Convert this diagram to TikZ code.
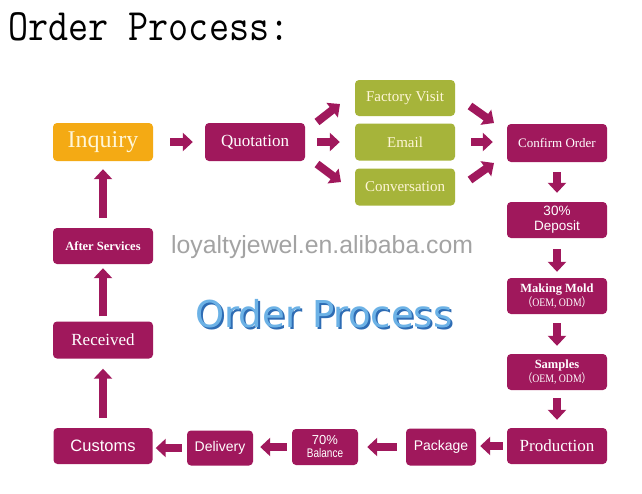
\documentclass[tikz,border=0pt]{standalone}
\usepackage{fontspec}
\setmainfont{Liberation Serif}
\newfontfamily\arial{Liberation Sans}
\newfontfamily\dejavu{DejaVu Sans}
\newfontfamily\cjk{Noto Sans CJK SC}
\usetikzlibrary{arrows.meta,calc}
\definecolor{mag}{HTML}{A0185C}
\definecolor{org}{HTML}{F4AA14}
\definecolor{grn}{HTML}{A6B43A}
\definecolor{cream}{HTML}{FFF6D8}
\definecolor{wmgray}{HTML}{A3A3A3}
\definecolor{bluelight}{HTML}{6CB2E6}
\definecolor{bluedark}{HTML}{2E6CB4}
\tikzset{
  box/.style={rounded corners=4pt, fill=mag, text=white, inner sep=0pt, align=center, minimum width=100pt, minimum height=36pt},
  gbox/.style={box, fill=grn, text=cream},
  fat/.style={draw=mag, line width=8pt, -{Triangle[width=18pt,length=10pt]}},
  plain/.style={inner sep=0pt, anchor=base west}
}
\newcommand{\fsz}[1]{\fontsize{#1}{#1}\selectfont}
\begin{document}
\begin{tikzpicture}[x=1pt,y=-1pt]
\fill[white] (0,0) rectangle (642,493);
\useasboundingbox (0,0) rectangle (642,493);

% title and texts
\node[plain] (title) at (8,40) {\scalebox{1}[1.15]{\ttfamily\fsz{39}Order Process:}};
\node[plain, text=wmgray] (wm) at (171,253) {\arial\fsz{24.8}loyaltyjewel.en.alibaba.com};
\node[plain] (op) at (195,327) {\dejavu\fsz{37}\rlap{\hspace{2pt}\raisebox{-2pt}{\textcolor{bluedark}{Order Process}}}\textcolor{bluelight}{Order Process}};

% top row
\node[box, fill=org, text=cream, minimum height=38pt] (inq) at (103,142) {\fsz{24}Inquiry};
\node[box, minimum height=38pt] (quo) at (255,142) {\fsz{17}Quotation};
\node[gbox] (fv) at (405,98) {\fsz{15}Factory Visit};
\node[gbox, minimum height=37pt] (em) at (405,142) {\fsz{15}Email};
\node[gbox, minimum height=37pt] (cv) at (405,187) {\fsz{15}Conversation};
\node[box, minimum height=38pt] (co) at (557,143) {\fsz{13}Confirm Order};

% right column
\node[box, font={\arial\fontsize{13.5}{15}\selectfont}] (dep) at (557,220) {30\%\\Deposit};
\node[box, font={\fontsize{12.5}{15}\selectfont\bfseries}] (mm) at (557,296) {Making Mold\\[-1pt]
  {\mdseries\fsz{11.5}\scalebox{0.85}[1]{{\cjk （}OEM, ODM{\cjk ）}}}};
\node[box, font={\fontsize{12.5}{15}\selectfont\bfseries}] (sam) at (557,372) {Samples\\[-1pt]
  {\mdseries\fsz{11.5}\scalebox{0.85}[1]{{\cjk （}OEM, ODM{\cjk ）}}}};
\node[box] (prod) at (557,446) {\fsz{17}Production};

% bottom row
\node[box, minimum width=70pt, minimum height=37pt] (pack) at (441,447) {\arial\fsz{14}Package};
\node[box, minimum width=66pt, font={\arial\fontsize{13}{13}\selectfont}] (bal) at (325,447) {70\%\\\scalebox{0.8}[1]{\fsz{12.5}Balance}};
\node[box, minimum width=66pt, minimum height=35pt] (del) at (220,448) {\arial\fsz{14}Delivery};
\node[box, minimum width=99pt] (cus) at (103,446) {\arial\fsz{16.5}Customs};

% left column
\node[box, minimum height=37pt] (rec) at (103,340) {\fsz{17}Received};
\node[box] (aft) at (103,246) {\fsz{12.5}\bfseries After Services};

% straight arrows
\draw[fat, shorten <=17pt, shorten >=12pt] (inq.east) -- (inq.east -| quo.west);
\draw[fat, shorten <=12pt, shorten >=15pt] (quo.east) -- (quo.east -| em.west);
\draw[fat, shorten <=16pt, shorten >=14pt] (em.east) -- (em.east -| co.west);
\draw[fat, shorten <=10pt, shorten >=9pt] (co.south) -- (co.south |- dep.north);
\draw[fat, shorten <=11pt, shorten >=6pt] (dep.south) -- (dep.south |- mm.north);
\draw[fat, shorten <=9pt, shorten >=8pt] (mm.south) -- (mm.south |- sam.north);
\draw[fat, shorten <=8pt, shorten >=8pt] (sam.south) -- (sam.south |- prod.north);
\draw[fat, shorten <=4pt, shorten >=4pt] (prod.west) -- (prod.west -| pack.east);
\draw[fat, shorten <=9pt, shorten >=9pt] (pack.west) -- (pack.west -| bal.east);
\draw[fat, shorten <=5pt, shorten >=7pt] (bal.west) -- (bal.west -| del.east);
\draw[fat, shorten <=5pt, shorten >=3pt] (del.west) -- (del.west -| cus.east);
\draw[fat, shorten <=10pt, shorten >=10pt] (cus.north) -- (cus.north |- rec.south);
\draw[fat, shorten <=5pt, shorten >=4pt] (rec.north) -- (rec.north |- aft.south);
\draw[fat, shorten <=10pt, shorten >=8pt] (aft.north) -- (aft.north |- inq.south);

% diagonal arrows
\coordinate (d1s) at (317,122);
\coordinate (d1e) at (340,104);
\coordinate (d2s) at (317,164);
\coordinate (d2e) at (341,182);
\coordinate (d3s) at (470,106);
\coordinate (d3e) at (494,123);
\coordinate (d4s) at (470,180);
\coordinate (d4e) at (494,163);
\draw[fat] (d1s) -- (d1e);
\draw[fat] (d2s) -- (d2e);
\draw[fat] (d3s) -- (d3e);
\draw[fat] (d4s) -- (d4e);
\end{tikzpicture}
\end{document}
